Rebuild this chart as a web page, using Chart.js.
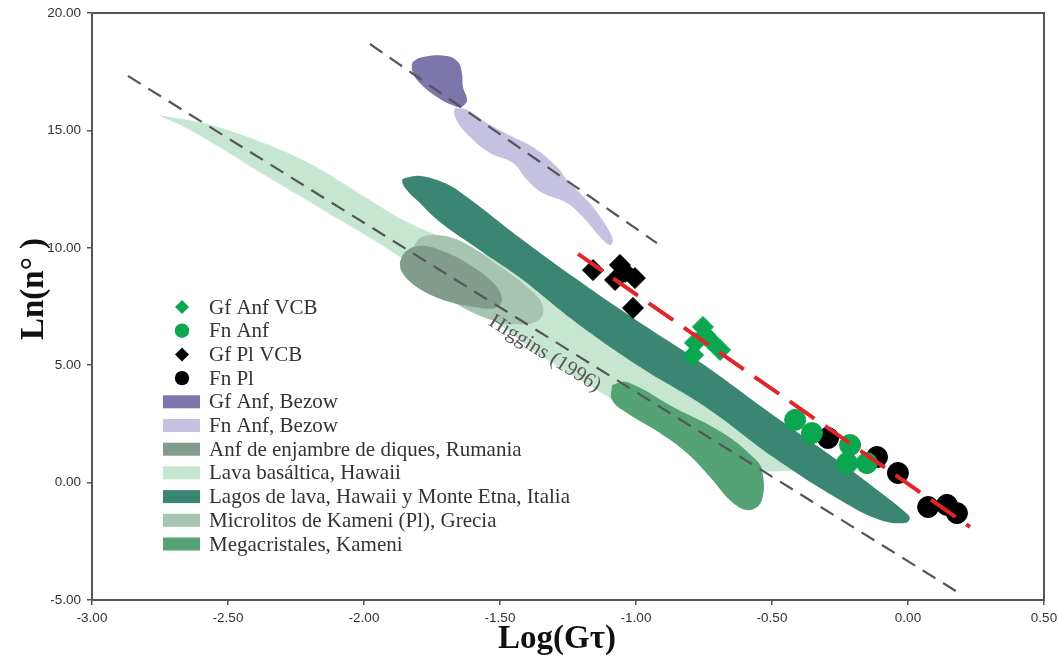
<!DOCTYPE html>
<html><head><meta charset="utf-8">
<script src="https://cdn.jsdelivr.net/npm/chart.js@4.4.0/dist/chart.umd.min.js"></script>
<style>html,body{margin:0;padding:0;background:#fff;}#wrap{width:1058px;height:657px;}</style>
</head><body><div id="wrap"><canvas id="c" width="1058" height="657"></canvas></div>
<script>
// ---- axis ticks ----
const xTickValues = [-3.0, -2.5, -2.0, -1.5, -1.0, -0.5, 0.0, 0.5];
const yTickValues = [-5, 0, 5, 10, 15, 20];

// ---- point series ----
const gfAnfVCB_x = [-0.754, -0.728, -0.746, -0.783, -0.790, -0.691];
const gfAnfVCB_y = [6.63, 6.07, 6.29, 5.95, 5.43, 5.65];
const fnAnf_x = [-0.415, -0.353, -0.213, -0.224, -0.151];
const fnAnf_y = [2.67, 2.11, 1.60, 0.83, 0.83];
const gfPlVCB_x = [-1.158, -1.059, -1.040, -1.077, -1.004, -1.011];
const gfPlVCB_y = [9.05, 9.27, 8.97, 8.63, 8.71, 7.44];
const fnPl_x = [-0.294, -0.114, -0.037, 0.074, 0.143, 0.180];
const fnPl_y = [1.90, 1.09, 0.41, -1.04, -0.95, -1.30];

// ---- reference lines ----
const higginsX = [-2.868, 0.1875];
const higginsY = [17.32, -4.70];
const upperLineX = [-1.978, -0.923];
const upperLineY = [18.68, 10.20];
const fitLineX = [-1.213, 0.228];
const fitLineY = [9.74, -1.89];

// ---- field outlines (data units) ----
const gfBezowX = [-1.824, -1.820, -1.783, -1.695, -1.654, -1.640, -1.636, -1.621, -1.636, -1.658, -1.732, -1.805];
const gfBezowY = [17.57, 17.91, 18.13, 18.17, 17.91, 17.44, 16.85, 16.29, 16.04, 16.00, 16.42, 17.15];
const fnBezowX = [-1.665, -1.621, -1.548, -1.452, -1.379, -1.290, -1.254, -1.206, -1.158, -1.107, -1.085, -1.096, -1.132, -1.195, -1.254, -1.342, -1.401, -1.452, -1.537, -1.610, -1.654, -1.669];
const fnBezowY = [15.95, 15.87, 15.32, 14.72, 14.29, 13.44, 12.89, 12.33, 11.74, 10.89, 10.33, 10.12, 10.46, 11.31, 11.91, 12.33, 12.89, 13.61, 14.04, 14.72, 15.32, 15.74];
const rumaniaX = [-1.868, -1.849, -1.801, -1.721, -1.610, -1.518, -1.493, -1.518, -1.592, -1.684, -1.776, -1.838, -1.864];
const rumaniaY = [9.40, 9.82, 10.08, 9.91, 9.27, 8.42, 7.78, 7.44, 7.48, 7.69, 8.12, 8.63, 9.05];
const lavaX = [-2.757, -2.577, -2.408, -2.210, -2.026, -1.842, -1.684, -1.426, -1.132, -0.765, -0.434, -0.353, -0.368, -0.618, -0.765, -0.912, -1.096, -1.353, -1.500, -1.721, -1.868, -2.088, -2.335, -2.640];
const lavaY = [15.66, 15.27, 14.63, 13.65, 12.38, 11.10, 10.33, 9.05, 7.01, 4.24, 1.56, 0.88, 0.58, 0.58, 1.30, 2.24, 3.60, 5.43, 6.71, 8.33, 9.61, 11.18, 12.89, 15.02];
const lagosX = [-1.849, -1.794, -1.721, -1.647, -1.426, -1.224, -1.011, -0.765, -0.471, -0.250, -0.103, -0.011, 0.007, -0.011, -0.103, -0.250, -0.496, -0.739, -0.985, -1.224, -1.426, -1.574, -1.721, -1.801, -1.849, -1.860];
const lagosY = [12.97, 13.06, 12.84, 12.38, 10.42, 8.71, 7.01, 5.14, 2.67, 0.88, -0.40, -1.25, -1.51, -1.72, -1.59, -0.74, 1.09, 3.18, 4.92, 6.85, 8.72, 9.90, 11.10, 11.98, 12.55, 12.89];
const microX = [-1.820, -1.794, -1.739, -1.647, -1.500, -1.390, -1.342, -1.360, -1.445, -1.537, -1.647, -1.757, -1.820];
const microY = [9.99, 10.42, 10.55, 10.30, 9.20, 8.22, 7.50, 6.90, 6.74, 6.95, 7.52, 8.42, 9.27];
const megaX = [-1.088, -1.033, -0.864, -0.680, -0.570, -0.537, -0.537, -0.581, -0.643, -0.728, -0.813, -0.912, -1.033, -1.088];
const megaY = [4.16, 4.28, 3.22, 2.11, 1.09, 0.54, -0.74, -1.17, -0.87, 0.24, 1.26, 2.11, 2.96, 3.52];

// ---- labels ----
const yTitle = 'Ln(n° )';
const xTitle = 'Log(Gτ)';
const higginsLabel = 'Higgins (1996)';

const pts = (xs, ys) => xs.map((x, i) => ({x, y: ys[i]}));
const closed = (xs, ys) => pts(xs, ys).concat([{x: xs[0], y: ys[0]}]);

function shapeDS(label, xs, ys, color, order, legendIndex) {
  return {label, data: closed(xs, ys), showLine: true, fill: 'shape', backgroundColor: color,
    borderColor: 'rgba(0,0,0,0)', borderWidth: 1, pointRadius: 0, pointHoverRadius: 0,
    tension: 0.4, order, isShape: true, legendIndex};
}
function markerDS(label, xs, ys, color, style, r, order, legendIndex) {
  return {label, data: pts(xs, ys), showLine: false, pointStyle: style, pointRadius: r,
    pointHoverRadius: r, backgroundColor: color, borderColor: color, borderWidth: 1,
    order, legendIndex};
}
function lineDS(label, xs, ys, color, width, dash, order) {
  return {label, data: pts(xs, ys), showLine: true, fill: false, borderColor: color,
    borderWidth: width, borderDash: dash, pointRadius: 0, pointHoverRadius: 0, tension: 0, order};
}

const GREEN = '#0ba650';
const datasets = [
  lineDS('fit', fitLineX, fitLineY, '#e1262b', 4, [30, 13], 0),
  markerDS('Fn Anf', fnAnf_x, fnAnf_y, GREEN, 'circle', 10.5, 1, 1),
  markerDS('Gf Anf VCB', gfAnfVCB_x, gfAnfVCB_y, GREEN, 'rectRot', 10.5, 2, 0),
  markerDS('Fn Pl', fnPl_x, fnPl_y, '#000000', 'circle', 10.5, 3, 3),
  markerDS('Gf Pl VCB', gfPlVCB_x, gfPlVCB_y, '#000000', 'rectRot', 10.5, 4, 2),
  lineDS('higgins', higginsX, higginsY, '#555555', 2.2, [15, 9], 5),
  lineDS('upper', upperLineX, upperLineY, '#555555', 2.2, [15, 9], 5),
  shapeDS('Gf Anf, Bezow', gfBezowX, gfBezowY, '#7c76aa', 6, 4),
  shapeDS('Fn Anf, Bezow', fnBezowX, fnBezowY, '#c5c1e1', 7, 5),
  shapeDS('Megacristales, Kameni', megaX, megaY, '#55a375', 8, 10),
  shapeDS('Lagos de lava, Hawaii y Monte Etna, Italia', lagosX, lagosY, '#3a8673', 9, 8),
  shapeDS('Anf de enjambre de diques, Rumania', rumaniaX, rumaniaY, '#819b8c', 10, 6),
  shapeDS('Microlitos de Kameni (Pl), Grecia', microX, microY, '#a6c4b1', 11, 9),
  shapeDS('Lava basáltica, Hawaii', lavaX, lavaY, '#c6e6d2', 12, 7),
];

const frame = {
  id: 'frame',
  beforeDatasetsDraw(chart) {
    const {ctx, chartArea: a} = chart;
    ctx.save();
    ctx.strokeStyle = '#555'; ctx.lineWidth = 2;
    ctx.strokeRect(a.left, a.top, a.right - a.left, a.bottom - a.top);
    ctx.restore();
  }
};

const texts = {
  id: 'texts',
  afterDatasetsDraw(chart) {
    const {ctx, scales} = chart;
    ctx.save();
    const hx = scales.x.getPixelForValue(-1.335), hy = scales.y.getPixelForValue(5.5);
    const ang = Math.atan2(scales.y.getPixelForValue(higginsY[1]) - scales.y.getPixelForValue(higginsY[0]),
                           scales.x.getPixelForValue(higginsX[1]) - scales.x.getPixelForValue(higginsX[0]));
    ctx.translate(hx, hy); ctx.rotate(ang);
    ctx.font = '21px "Liberation Serif"'; ctx.fillStyle = '#555';
    ctx.textAlign = 'center'; ctx.textBaseline = 'middle';
    ctx.fillText(higginsLabel, 0, 0);
    ctx.restore();
  },
  afterDraw(chart) {
    const {ctx} = chart;
    ctx.save();
    ctx.fillStyle = '#111';
    ctx.font = 'bold 33px "Liberation Serif"';
    ctx.textAlign = 'center'; ctx.textBaseline = 'alphabetic';
    ctx.fillText(xTitle, 557, 648);
    ctx.translate(43, 289); ctx.rotate(-Math.PI / 2);
    ctx.fillText(yTitle, 0, 0);
    ctx.restore();
    // legend
    const items = chart.data.datasets.filter(d => d.legendIndex !== undefined)
      .sort((a, b) => a.legendIndex - b.legendIndex);
    const x0 = 182, y0 = 307, rowH = 23.7;
    ctx.save();
    ctx.font = '21px "Liberation Serif"';
    ctx.textBaseline = 'middle'; ctx.textAlign = 'left';
    items.forEach((d, i) => {
      const y = y0 + i * rowH;
      ctx.fillStyle = d.backgroundColor;
      if (d.isShape) {
        ctx.fillRect(163, y - 6.5, 37, 13);
      } else if (d.pointStyle === 'circle') {
        ctx.beginPath(); ctx.arc(x0, y, 7.2, 0, Math.PI * 2); ctx.fill();
      } else {
        ctx.beginPath(); ctx.moveTo(x0 - 7, y); ctx.lineTo(x0, y - 7); ctx.lineTo(x0 + 7, y); ctx.lineTo(x0, y + 7);
        ctx.closePath(); ctx.fill();
      }
      ctx.fillStyle = '#333';
      ctx.fillText(d.label, 209, y + 1);
    });
    ctx.restore();
  }
};

new Chart(document.getElementById('c'), {
  type: 'line',
  data: {datasets},
  options: {
    responsive: false, animation: false, devicePixelRatio: 1,
    layout: {padding: {top: 13, right: 14, left: 0, bottom: 0}},
    plugins: {legend: {display: false}, tooltip: {enabled: false}},
    scales: {
      x: {
        type: 'linear', min: -3, max: 0.5,
        afterBuildTicks: s => { s.ticks = xTickValues.map(v => ({value: v})); },
        afterFit: s => { s.height = 57; s.paddingLeft = 0; s.paddingRight = 0; },
        ticks: {callback: v => Number(v).toFixed(2), font: {family: 'Liberation Sans', size: 13.5}, color: '#333', padding: 5, maxRotation: 0, autoSkip: false},
        grid: {drawOnChartArea: false, drawTicks: true, tickLength: 5, color: '#555', lineWidth: 1.5},
        border: {display: true, color: '#555', width: 2}
      },
      y: {
        type: 'linear', min: -5, max: 20,
        afterBuildTicks: s => { s.ticks = yTickValues.map(v => ({value: v})); },
        afterFit: s => { s.width = 92; s.paddingTop = 0; s.paddingBottom = 0; },
        ticks: {callback: v => Number(v).toFixed(2), font: {family: 'Liberation Sans', size: 13.5}, color: '#333', padding: 6, autoSkip: false},
        grid: {drawOnChartArea: false, drawTicks: true, tickLength: 5, color: '#555', lineWidth: 1.5},
        border: {display: true, color: '#555', width: 2}
      }
    }
  },
  plugins: [frame, texts]
});
</script></body></html>
